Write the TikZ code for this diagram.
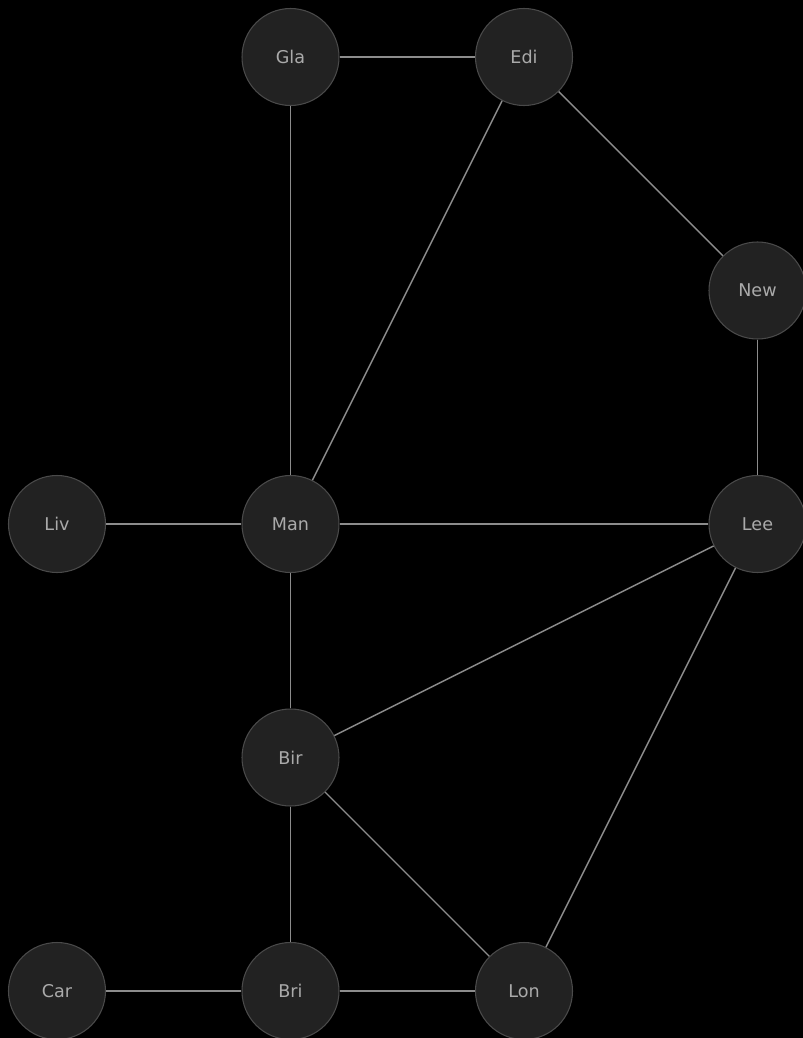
\documentclass[tikz,border=0pt]{standalone}
\usepackage{fontspec}
\setsansfont{DejaVu Sans}
\usetikzlibrary{positioning}
\definecolor{cityfill}{HTML}{222222}
\definecolor{cityedge}{HTML}{4A4A4A}
\definecolor{citytext}{HTML}{AAAAAA}
\definecolor{roadgray}{HTML}{8C8C8C}

\begin{document}
\begin{tikzpicture}[
    city/.style={draw=cityedge, circle, fill=cityfill, minimum size=1.94cm, inner sep=0pt, line width=0.6pt, text=citytext, font=\sffamily\fontsize{10}{12}\selectfont},
    road/.style={draw=roadgray, line width=0.8pt},
    on grid, node distance=4.67cm
]
\fill[black] (0,0) rectangle (16.06,-20.76);
\useasboundingbox (0,0) rectangle (16.06,-20.76);

\node[city] (man) at (5.81,-10.48) {Man};
\node[city, left=of man] (liv) {Liv};
\node[city, below=of man] (bir) {Bir};
\node[city, below=of bir] (bri) {Bri};
\node[city, left=of bri] (car) {Car};
\node[city, right=of bri] (lon) {Lon};
\node[city, right=9.34cm of man] (lee) {Lee};
\node[city, above=of lee] (new) {New};
\node[city, above=9.34cm of man] (gla) {Gla};
\node[city, right=of gla] (edi) {Edi};

\draw[road] (gla) -- (edi);
\draw[road] (gla) -- (man);
\draw[road] (edi) -- (man);
\draw[road] (edi) -- (new);
\draw[road] (new) -- (lee);
\draw[road] (liv) -- (man);
\draw[road] (man) -- (lee);
\draw[road] (man) -- (bir);
\draw[road] (lee) -- (bir);
\draw[road] (lee) -- (lon);
\draw[road] (bir) -- (bri);
\draw[road] (bir) -- (lon);
\draw[road] (car) -- (bri);
\draw[road] (bri) -- (lon);
\end{tikzpicture}
\end{document}
